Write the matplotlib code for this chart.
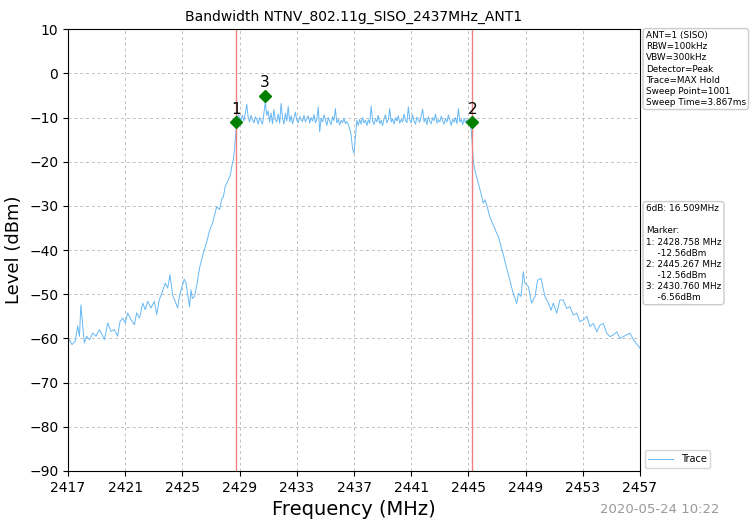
import numpy as np
import matplotlib
matplotlib.use('Agg')
import matplotlib.pyplot as plt

# Trace (frequency in MHz, level in dBm)
left_freq = [2417.0, 2417.09, 2417.28, 2417.5, 2417.68, 2417.8, 2417.9, 2418.03, 2418.14, 2418.3,
             2418.5, 2418.73, 2418.96, 2419.19, 2419.38, 2419.54, 2419.78, 2420.0, 2420.24, 2420.47,
             2420.64, 2420.83, 2421.0, 2421.17, 2421.4, 2421.64, 2421.8, 2422.0, 2422.23, 2422.4,
             2422.57, 2422.8, 2423.04, 2423.2, 2423.38, 2423.6, 2423.8, 2423.97, 2424.13, 2424.32,
             2424.5, 2424.67, 2424.78, 2424.97, 2425.13, 2425.25, 2425.38, 2425.5, 2425.6, 2425.7,
             2425.85, 2426.0, 2426.2, 2426.46, 2426.7, 2426.9, 2427.1, 2427.25, 2427.4, 2427.6,
             2427.75, 2427.86, 2428.0, 2428.2, 2428.35, 2428.45, 2428.56, 2428.65, 2428.72, 2428.8,
             2428.9]
left_level = [-61.0, -60.3, -61.4, -60.6, -57.2, -59.5, -52.4, -57.2, -61.0, -59.5,
              -60.3, -58.8, -59.5, -58.0, -59.1, -60.3, -56.5, -58.4, -58.0, -59.5,
              -56.1, -55.4, -56.5, -54.2, -55.7, -56.9, -54.2, -55.4, -52.0, -53.5,
              -51.6, -53.1, -51.6, -54.6, -51.3, -49.4, -47.5, -48.6, -45.6, -50.2,
              -51.7, -53.1, -50.6, -48.3, -46.6, -47.5, -50.2, -52.8, -49.0, -51.0,
              -50.5, -48.0, -44.0, -40.7, -38.2, -35.5, -34.0, -32.0, -30.2, -30.8,
              -28.4, -28.0, -25.5, -24.2, -23.0, -21.1, -19.5, -17.0, -14.0, -11.5,
              -9.4]

top_freq = [round(2429.0 + 0.1 * i, 1) for i in range(163)]
top_level = [-10.0, -10.5, -9.5, -10.8, -9.0, -7.0, -10.0, -11.0, -9.5, -10.5,
             -11.2, -9.8, -10.4, -11.5, -10.0, -10.8, -11.5, -9.0, -6.5, -9.5,
             -8.5, -11.0, -9.0, -11.4, -8.2, -10.5, -11.0, -9.2, -11.3, -6.8,
             -10.0, -11.5, -9.0, -10.8, -7.5, -11.0, -9.6, -11.4, -10.2, -8.8,
             -10.6, -11.2, -9.8, -10.5, -10.9, -9.5, -11.0, -10.2, -9.6, -11.3,
             -10.0, -10.8, -9.3, -11.2, -10.4, -7.6, -13.2, -10.2, -11.0, -9.4,
             -10.6, -11.8, -10.0, -10.9, -11.6, -9.8, -10.7, -8.0, -11.2, -10.4,
             -11.7, -10.6, -11.2, -10.2, -11.4, -10.9, -11.6, -12.5, -14.0, -17.0,
             -18.1, -14.5, -10.6, -11.8, -10.4, -11.5, -10.0, -11.2, -10.6, -11.8,
             -10.5, -11.3, -7.4, -10.8, -11.6, -10.2, -11.0, -9.5, -11.4, -10.6,
             -11.8, -10.3, -9.4, -11.2, -10.5, -8.0, -11.0, -10.3, -11.5, -10.0,
             -10.8, -9.6, -11.3, -10.4, -11.0, -9.2, -10.6, -11.2, -7.6, -10.5,
             -11.2, -9.4, -10.8, -11.5, -9.9, -10.6, -11.1, -9.6, -8.1, -11.0,
             -10.2, -11.6, -9.8, -10.9, -11.4, -10.0, -10.7, -9.2, -11.3, -10.5,
             -11.0, -9.7, -10.8, -11.5, -10.2, -11.0, -9.4, -10.6, -11.8, -10.3,
             -11.1, -10.0, -11.4, -8.0, -11.0, -10.4, -11.6, -10.2, -11.2, -10.5,
             -11.0, -10.6, -13.0]

right_freq = [2445.25, 2445.34, 2445.45, 2445.58, 2445.7, 2445.82, 2446.04, 2446.16, 2446.28, 2446.5,
              2446.74, 2446.98, 2447.1, 2447.28, 2447.45, 2447.68, 2447.9, 2448.1, 2448.38, 2448.5,
              2448.68, 2448.84, 2448.95, 2449.19, 2449.42, 2449.66, 2449.84, 2450.08, 2450.2, 2450.36,
              2450.6, 2450.78, 2450.94, 2451.18, 2451.4, 2451.64, 2451.87, 2452.1, 2452.34, 2452.58,
              2452.8, 2453.04, 2453.28, 2453.5, 2453.74, 2453.98, 2454.2, 2454.44, 2454.67, 2454.9,
              2455.14, 2455.38, 2455.6, 2455.84, 2456.07, 2456.3, 2456.55, 2456.8, 2457.0]
right_level = [-15.0, -19.6, -21.9, -23.5, -24.9, -26.4, -29.4, -28.6, -29.8, -32.5,
               -34.3, -36.2, -36.9, -39.2, -41.1, -44.2, -46.8, -49.4, -52.1, -49.8,
               -50.5, -44.9, -47.5, -48.2, -52.0, -50.5, -46.8, -46.4, -48.3, -50.5,
               -52.0, -53.6, -52.0, -54.3, -51.3, -51.3, -53.2, -52.8, -54.7, -54.3,
               -56.2, -55.8, -55.0, -57.3, -56.6, -58.5, -57.0, -56.6, -58.8, -59.6,
               -59.2, -58.5, -60.0, -59.6, -59.2, -58.8, -60.3, -61.4, -62.2]

marker_ids = ['1', '2', '3']
marker_freq = [2428.758, 2445.267, 2430.760]
marker_level = [-11.06, -11.06, -5.06]

x_ticks = list(range(2417, 2458, 4))
y_ticks = list(range(-90, 11, 10))

setup_text = ("ANT=1 (SISO)\nRBW=100kHz\nVBW=300kHz\nDetector=Peak\n"
              "Trace=MAX Hold\nSweep Point=1001\nSweep Time=3.867ms")
result_text = ("6dB: 16.509MHz\n\nMarker:\n1: 2428.758 MHz\n    -12.56dBm\n"
               "2: 2445.267 MHz\n    -12.56dBm\n3: 2430.760 MHz\n    -6.56dBm")

freq = np.array(left_freq + top_freq + right_freq)
level = np.array(left_level + top_level + right_level)

fig = plt.figure(figsize=(7.5, 5.21), dpi=100)
ax = fig.add_axes([0.0907, 0.096, 0.7626, 0.848])

ax.plot(freq, level, color='#66b8f5', linewidth=0.7, label='Trace')
for f in marker_freq[:2]:
    ax.axvline(f, color='#f08080', linewidth=1.0)
ax.plot(marker_freq, marker_level, 'D', color='green', markersize=6, linestyle='none')
for name, f, lv in zip(marker_ids, marker_freq, marker_level):
    ax.text(f, lv + 1.2, name, ha='center', va='bottom', fontsize=11)

ax.set_xlim(2417, 2457)
ax.set_ylim(-90, 10)
ax.set_xticks(x_ticks)
ax.set_yticks(y_ticks)
ax.tick_params(labelsize=10)
ax.grid(True, linestyle=(0, (3, 3)), color='#c0c0c0', linewidth=0.7)
ax.set_title('Bandwidth NTNV_802.11g_SISO_2437MHz_ANT1', fontsize=10)
ax.set_xlabel('Frequency (MHz)', fontsize=14)
ax.set_ylabel('Level (dBm)', fontsize=13)

box = dict(boxstyle='round,pad=0.3', facecolor='white', edgecolor='#cccccc')
fig.text(0.861, 0.94, setup_text, fontsize=6.4, va='top', ha='left', linespacing=1.3, bbox=box)
fig.text(0.861, 0.608, result_text, fontsize=6.4, va='top', ha='left', linespacing=1.3, bbox=box)

ax.legend(loc='lower left', bbox_to_anchor=(1.003, 0.0), fontsize=7, frameon=True,
          edgecolor='#cccccc', handlelength=2.5, borderaxespad=0.3)

fig.text(0.88, 0.01, '2020-05-24 10:22', fontsize=9.5, color='#999999', ha='center', va='bottom')

fig.savefig('out.png', dpi=100)
